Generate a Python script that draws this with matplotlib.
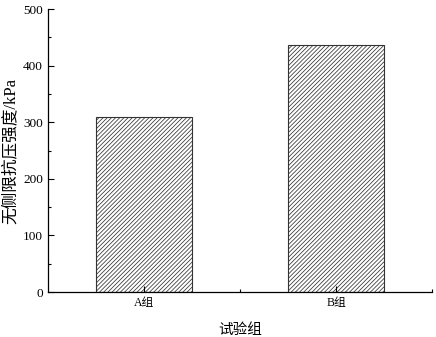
import matplotlib
matplotlib.use("Agg")
import matplotlib.pyplot as plt
from matplotlib.ticker import MultipleLocator, FixedLocator

plt.rcParams['font.family'] = ['Liberation Serif', 'Noto Sans CJK SC']
plt.rcParams['hatch.linewidth'] = 0.55
plt.rcParams['hatch.color'] = '#666666'

groups = ['A组', 'B组']
strength = [310, 436]

fig = plt.figure(figsize=(4.36, 3.37), dpi=100)
ax = fig.add_axes([0.110, 0.1335, 0.881, 0.8395])

pos = [1, 2]
ax.bar(pos, strength, width=0.5, color='white', edgecolor='#333333',
       linewidth=0.8, hatch='////////')

ax.set_xlim(0.5, 2.5)
ax.set_ylim(0, 500)
ax.set_xticks(pos)
ax.set_xticklabels(groups, fontsize=8.5)
ax.xaxis.set_minor_locator(FixedLocator([1.5, 2.5]))
ax.yaxis.set_major_locator(MultipleLocator(100))
ax.yaxis.set_minor_locator(MultipleLocator(50))
ax.tick_params(axis='y', labelsize=9.5)

ax.tick_params(which='major', direction='in', length=4, width=0.8)
ax.tick_params(which='minor', direction='in', length=2.5, width=0.8)

for s in ['top', 'right']:
    ax.spines[s].set_visible(False)
for s in ['left', 'bottom']:
    ax.spines[s].set_linewidth(0.9)

ax.set_ylabel('无侧限抗压强度/kPa', fontsize=12, labelpad=3)
ax.set_xlabel('试验组', fontsize=10.5, labelpad=10)

fig.savefig('out.png', dpi=100)
